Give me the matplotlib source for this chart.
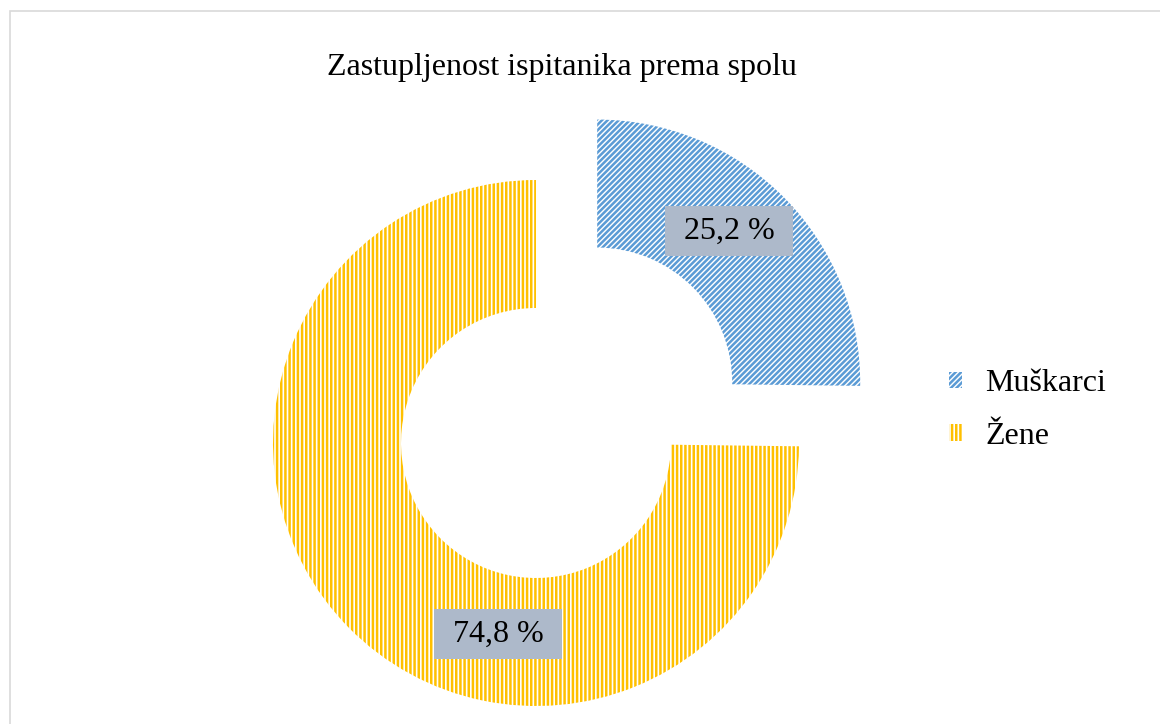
import matplotlib.pyplot as plt
from matplotlib.patches import Patch, Rectangle

plt.rcParams['font.family'] = ['Liberation Serif', 'DejaVu Serif']
plt.rcParams['hatch.linewidth'] = 1.8

# Podaci
kategorije = ['Muškarci', 'Žene']
postotci = [25.2, 74.8]
oznake = ['25,2 %', '74,8 %']
boje = ['#5B9BD5', '#FFC000']
srafure = ['//////', '||||']
naslov = 'Zastupljenost ispitanika prema spolu'

fig = plt.figure(figsize=(11.6, 7.24), dpi=100)
fig.patches.append(Rectangle((10 / 1160, -0.1), 1.2, 1 - 11 / 724 + 0.1, transform=fig.transFigure,
                             fill=False, edgecolor='#D9D9D9', lw=1.2))
ax = fig.add_axes([0, 0, 1, 1])

wedges, _ = ax.pie(postotci, center=(536, 281), radius=263, startangle=90, counterclock=False,
                   explode=[86, 0], wedgeprops=dict(width=128, linewidth=0))
for w, c, h in zip(wedges, boje, srafure):
    w.set_facecolor('white')
    w.set_edgecolor(c)
    w.set_hatch(h)
    w.set_linewidth(0)

ax.set_xlim(0, 1160)
ax.set_ylim(0, 724)
ax.axis('off')

# oznake podataka
poz = [(729, 493), (498, 90)]
for (x, y), t in zip(poz, oznake):
    ax.text(x, y, ' ' + t + ' ', ha='center', va='center', fontsize=23,
            bbox=dict(boxstyle='square,pad=0.33', facecolor='#ADB9CA', edgecolor='none'))

ax.text(562, 724 - 68, naslov, ha='center', va='center', fontsize=23)

ruke = [Patch(facecolor='white', edgecolor=c, hatch=h, lw=0) for c, h in zip(boje, srafure)]
fig.legend(ruke, kategorije, loc='center left', bbox_to_anchor=(920 / 1160, 1 - 410 / 724),
           frameon=False, fontsize=23, handlelength=0.42, handleheight=0.4, handletextpad=0.72,
           labelspacing=0.75)

fig.savefig('out.png', dpi=100)
